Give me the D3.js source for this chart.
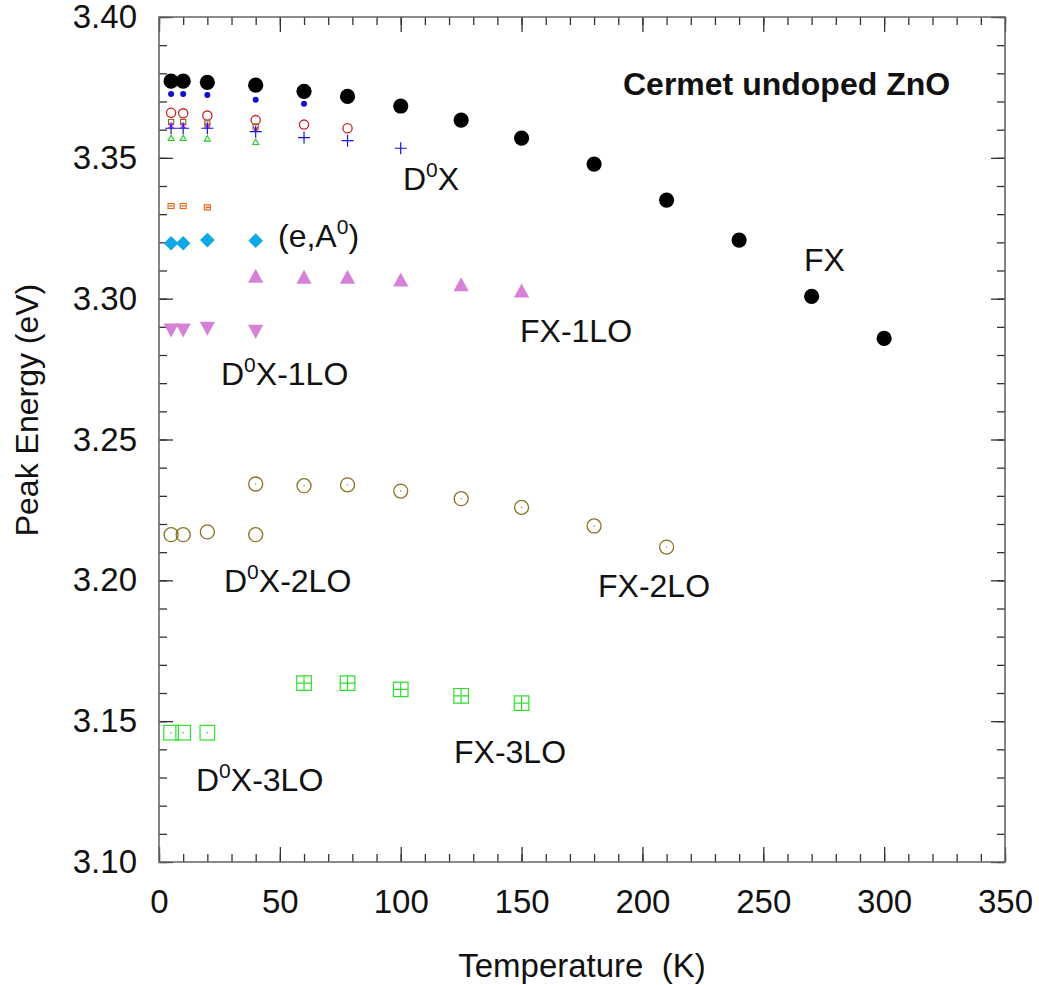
<!DOCTYPE html>
<html>
<head>
<meta charset="utf-8">
<script src="https://cdn.jsdelivr.net/npm/d3@7"></script>
<style>
  html, body { margin: 0; padding: 0; background: #fff; }
  svg text { font-family: "Liberation Sans", Arial, sans-serif; fill: #111; }
</style>
</head>
<body>
<svg id="chart" width="1039" height="985"></svg>
<script>
// Peak energies (eV) of the PL lines versus temperature (K)
const fxT   = [5, 10, 20, 40, 60, 78, 100, 125, 150, 180, 210, 240, 270, 300];
const fxE   = [3.3772, 3.3772, 3.3768, 3.3758, 3.3736, 3.3718, 3.3684, 3.3634, 3.3570, 3.3478, 3.3350, 3.3208, 3.3008, 3.2859];
const blueDotT = [5, 10, 20, 40, 60];
const blueDotE = [3.3727, 3.3727, 3.3723, 3.3706, 3.3692];
const redRingT = [5, 10, 20, 40, 60, 78];
const redRingE = [3.3660, 3.3658, 3.3650, 3.3634, 3.3618, 3.3605];
const oliveBoxT = [5, 10, 20, 40];
const oliveBoxE = [3.3627, 3.3627, 3.3622, 3.3611];
const magentaT = [5, 10, 20, 40];
const magentaE = [3.3614, 3.3614, 3.3614, 3.3601];
const d0xT = [5, 10, 20, 40, 60, 78, 100];
const d0xE = [3.3605, 3.3605, 3.3605, 3.3593, 3.3572, 3.3561, 3.3534];
const greenTriT = [5, 10, 20, 40];
const greenTriE = [3.3570, 3.3570, 3.3568, 3.3556];
const orangeT = [5, 10, 20];
const orangeE = [3.3329, 3.3329, 3.3324];
const eA0T = [5, 10, 20, 40];
const eA0E = [3.3197, 3.3197, 3.3208, 3.3206];
const fx1loT = [40, 60, 78, 100, 125, 150];
const fx1loE = [3.3080, 3.3076, 3.3076, 3.3066, 3.3049, 3.3027];
const d0x1loT = [5, 10, 20, 40];
const d0x1loE = [3.2889, 3.2889, 3.2895, 3.2884];
const d0x2loT = [5, 10, 20, 40];
const d0x2loE = [3.2162, 3.2162, 3.2172, 3.2162];
const fx2loT = [40, 60, 78, 100, 125, 150, 180, 210];
const fx2loE = [3.2342, 3.2336, 3.2339, 3.2317, 3.2290, 3.2259, 3.2193, 3.2118];
const d0x3loT = [5, 10, 20];
const d0x3loE = [3.1459, 3.1459, 3.1459];
const fx3loT = [60, 78, 100, 125, 150];
const fx3loE = [3.1635, 3.1635, 3.1613, 3.1590, 3.1564];

const xMajor = [0, 50, 100, 150, 200, 250, 300, 350];
const yMajor = [3.10, 3.15, 3.20, 3.25, 3.30, 3.35, 3.40];

const svg = d3.select("#chart");
const L = 159, R = 1005, T = 17, B = 862;
const x = d3.scaleLinear().domain([0, 350]).range([L, R]);
const y = d3.scaleLinear().domain([3.10, 3.40]).range([B, T]);

const pairs = (ts, es) => ts.map((t, i) => [t, es[i]]);

// ---- axes: inward ticks on all four sides ----
const tickColor = "#333";
function styleAxis(g) {
  g.selectAll(".domain").remove();
  g.selectAll(".tick line").attr("stroke", tickColor).attr("stroke-width", 1.3);
  g.selectAll(".tick text").style("font-size", "33px").attr("fill", "#111");
}
// minor
svg.append("g").attr("transform", `translate(0,${B})`)
  .call(d3.axisBottom(x).tickValues(d3.range(0, 351, 10)).tickSize(-8).tickFormat(""))
  .call(styleAxis);
svg.append("g").attr("transform", `translate(0,${T})`)
  .call(d3.axisTop(x).tickValues(d3.range(0, 351, 10)).tickSize(-8).tickFormat(""))
  .call(styleAxis);
svg.append("g").attr("transform", `translate(${L},0)`)
  .call(d3.axisLeft(y).tickValues(d3.range(310, 341, 1).map(v => v / 100)).tickSize(-8).tickFormat(""))
  .call(styleAxis);
svg.append("g").attr("transform", `translate(${R},0)`)
  .call(d3.axisRight(y).tickValues(d3.range(310, 341, 1).map(v => v / 100)).tickSize(-8).tickFormat(""))
  .call(styleAxis);
// major
svg.append("g").attr("transform", `translate(0,${B})`)
  .call(d3.axisBottom(x).tickValues(xMajor).tickSize(-15).tickPadding(28).tickFormat(d3.format("d")))
  .call(styleAxis);
svg.append("g").attr("transform", `translate(0,${T})`)
  .call(d3.axisTop(x).tickValues(xMajor).tickSize(-15).tickFormat(""))
  .call(styleAxis);
svg.append("g").attr("transform", `translate(${L},0)`)
  .call(d3.axisLeft(y).tickValues(yMajor).tickSize(-14).tickPadding(22).tickFormat(d3.format(".2f")))
  .call(styleAxis);
svg.append("g").attr("transform", `translate(${R},0)`)
  .call(d3.axisRight(y).tickValues(yMajor).tickSize(-14).tickFormat(""))
  .call(styleAxis);

// frame
svg.append("path")
  .attr("d", `M${L},${T}H${R}V${B}H${L}Z`)
  .attr("fill", "none").attr("stroke", "#666").attr("stroke-width", 1.6);

// ---- marks ----
const plot = svg.append("g");
function place(sel) { return sel.attr("transform", d => `translate(${x(d[0])},${y(d[1])})`); }

// FX: large black discs
plot.append("g").selectAll("circle").data(pairs(fxT, fxE)).join("circle")
  .attr("cx", d => x(d[0])).attr("cy", d => y(d[1])).attr("r", 7.6).attr("fill", "#000");

// small blue discs
plot.append("g").selectAll("circle").data(pairs(blueDotT, blueDotE)).join("circle")
  .attr("cx", d => x(d[0])).attr("cy", d => y(d[1])).attr("r", 3).attr("fill", "#1010d0");

// red rings
plot.append("g").selectAll("circle").data(pairs(redRingT, redRingE)).join("circle")
  .attr("cx", d => x(d[0])).attr("cy", d => y(d[1])).attr("r", 4.6)
  .attr("fill", "none").attr("stroke", "#cc2020").attr("stroke-width", 1.3);

// olive small boxes
place(plot.append("g").selectAll("rect").data(pairs(oliveBoxT, oliveBoxE)).join("rect"))
  .attr("x", -2.6).attr("y", -2.6).attr("width", 5.2).attr("height", 5.2)
  .attr("fill", "none").attr("stroke", "#8a6a10").attr("stroke-width", 1.1);

// magenta small crosses
place(plot.append("g").selectAll("path").data(pairs(magentaT, magentaE)).join("path"))
  .attr("d", "M-2.5,-2.5L2.5,2.5M-2.5,2.5L2.5,-2.5")
  .attr("stroke", "#c02cc0").attr("stroke-width", 1.3);

// D0X: blue plus signs
place(plot.append("g").selectAll("path").data(pairs(d0xT, d0xE)).join("path"))
  .attr("d", "M-6,0H6M0,-6V6")
  .attr("stroke", "#1515e0").attr("stroke-width", 1.2);

// green small open triangles
place(plot.append("g").selectAll("path").data(pairs(greenTriT, greenTriE)).join("path"))
  .attr("d", "M0,-3L3,2.4H-3Z")
  .attr("fill", "none").attr("stroke", "#22cc22").attr("stroke-width", 1.1);

// orange small boxes with inner marks
place(plot.append("g").selectAll("path").data(pairs(orangeT, orangeE)).join("path"))
  .attr("d", "M-3,-2.5H3V2.5H-3ZM-1,0H3M-1,-1V1")
  .attr("fill", "none").attr("stroke", "#ee6010").attr("stroke-width", 1.1);

// (e,A0): cyan diamonds
place(plot.append("g").selectAll("path").data(pairs(eA0T, eA0E)).join("path"))
  .attr("d", "M0,-7.3L7.3,0L0,7.3L-7.3,0Z").attr("fill", "#10a8e4");

// FX-1LO: orchid up-triangles
place(plot.append("g").selectAll("path").data(pairs(fx1loT, fx1loE)).join("path"))
  .attr("d", "M0,-7.5L7.6,6.5H-7.6Z").attr("fill", "#d680d8");

// D0X-1LO: orchid down-triangles
place(plot.append("g").selectAll("path").data(pairs(d0x1loT, d0x1loE)).join("path"))
  .attr("d", "M0,7.5L7.6,-6.5H-7.6Z").attr("fill", "#d680d8");

// 2LO: olive rings
const olive = "#8a7424";
plot.append("g").selectAll("circle").data(pairs(d0x2loT, d0x2loE)).join("circle")
  .attr("cx", d => x(d[0])).attr("cy", d => y(d[1])).attr("r", 7)
  .attr("fill", "none").attr("stroke", olive).attr("stroke-width", 1.3);
const fx2 = place(plot.append("g").selectAll("g").data(pairs(fx2loT, fx2loE)).join("g"));
fx2.append("circle").attr("r", 7).attr("fill", "none").attr("stroke", olive).attr("stroke-width", 1.3);
fx2.append("circle").attr("r", 0.7).attr("fill", olive);

// 3LO: green open squares
const green = "#2ee02e";
const d3lo = place(plot.append("g").selectAll("g").data(pairs(d0x3loT, d0x3loE)).join("g"));
d3lo.append("rect").attr("x", -7.3).attr("y", -7.3).attr("width", 14.6).attr("height", 14.6)
  .attr("fill", "none").attr("stroke", green).attr("stroke-width", 1.2);
d3lo.append("rect").attr("x", -0.7).attr("y", -0.7).attr("width", 1.4).attr("height", 1.4).attr("fill", green);
place(plot.append("g").selectAll("path").data(pairs(fx3loT, fx3loE)).join("path"))
  .attr("d", "M-7.3,-7.3H7.3V7.3H-7.3ZM-7.3,0H7.3M0,-7.3V7.3")
  .attr("fill", "none").attr("stroke", green).attr("stroke-width", 1.2);

// ---- line labels ----
function label(px, py, parts, opts = {}) {
  const t = svg.append("text").attr("x", px).attr("y", py)
    .style("font-size", (opts.size || 32) + "px");
  if (opts.bold) t.style("font-weight", "bold");
  parts.forEach(p => {
    if (p.sup) {
      t.append("tspan").text(p.sup).style("font-size", "21px").attr("dy", -13);
    } else {
      const s = t.append("tspan").text(p.t);
      if (p.after) s.attr("dy", 13);
    }
  });
  return t;
}
label(623, 95, [{t: "Cermet undoped ZnO"}], {bold: true, size: 32});
label(403, 190, [{t: "D"}, {sup: "0"}, {t: "X", after: true}]);
label(278, 247, [{t: "(e,A"}, {sup: "0"}, {t: ")", after: true}]);
label(804, 271, [{t: "FX"}]);
label(520, 342, [{t: "FX-1LO"}]);
label(221, 385, [{t: "D"}, {sup: "0"}, {t: "X-1LO", after: true}]);
label(224, 592, [{t: "D"}, {sup: "0"}, {t: "X-2LO", after: true}]);
label(598, 597, [{t: "FX-2LO"}]);
label(454, 763, [{t: "FX-3LO"}]);
label(196, 791, [{t: "D"}, {sup: "0"}, {t: "X-3LO", after: true}]);

// ---- axis titles ----
svg.append("text").attr("x", (L + R) / 2).attr("y", 977).attr("text-anchor", "middle")
  .style("font-size", "33px").text("Temperature\u00a0\u00a0(K)");
svg.append("text").attr("transform", `translate(38,410) rotate(-90)`).attr("text-anchor", "middle")
  .style("font-size", "32px").text("Peak Energy (eV)");
</script>
</body>
</html>
